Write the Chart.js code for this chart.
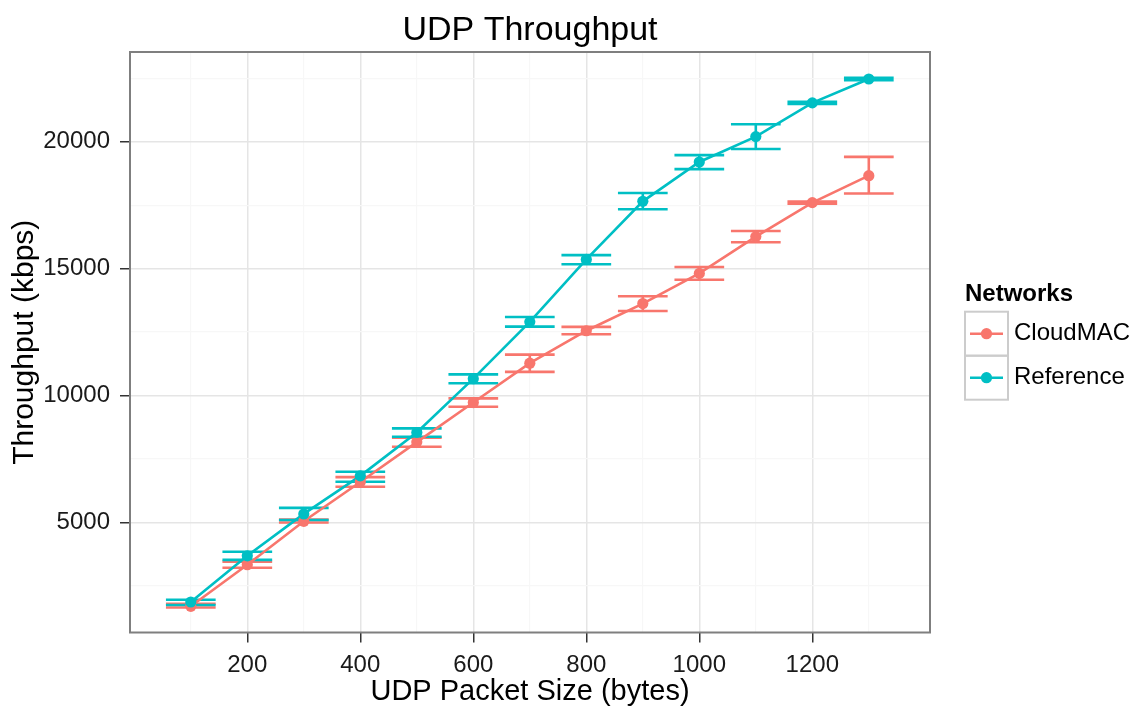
<!DOCTYPE html>
<html>
<head>
<meta charset="utf-8">
<script src="https://cdn.jsdelivr.net/npm/chart.js@4.4.1/dist/chart.umd.min.js"></script>
<style>
html,body{margin:0;padding:0;background:#ffffff;}
#wrap{width:1132px;height:707px;position:relative;}
</style>
</head>
<body>
<div id="wrap"><canvas id="c" width="1132" height="707"></canvas></div>
<script>
// ---- data ----
const packetSizes = [100, 200, 300, 400, 500, 600, 700, 800, 900, 1000, 1100, 1200, 1300];

const cloudmacMean = [1690, 3330, 5040, 6590, 8160, 9720, 11270, 12550, 13620, 14810, 16260, 17600, 18660];
const cloudmacLow  = [1640, 3210, 4990, 6400, 7980, 9555, 10930, 12410, 13330, 14560, 16040, 17555, 17960];
const cloudmacHigh = [1790, 3450, 5110, 6780, 8330, 9885, 11610, 12700, 13910, 15060, 16480, 17645, 19400];

const referenceMean = [1860, 3680, 5330, 6830, 8540, 10660, 12900, 15360, 17650, 19200, 20200, 21530, 22470];
const referenceLow  = [1740, 3520, 5090, 6600, 8370, 10480, 12710, 15170, 17340, 18920, 19710, 21485, 22425];
const referenceHigh = [1950, 3840, 5570, 6990, 8700, 10830, 13090, 15530, 17980, 19470, 20690, 21575, 22515];

const seriesNames = ['CloudMAC', 'Reference'];
const seriesColors = ['#F8766D', '#00BFC4'];

const xMajorTicks = [200, 400, 600, 800, 1000, 1200];
const xMinorBreaks = [100, 300, 500, 700, 900, 1100, 1300];
const yMajorTicks = [5000, 10000, 15000, 20000];
const yMinorBreaks = [2500, 7500, 12500, 17500, 22500];

const chartTitle = 'UDP Throughput';
const xTitle = 'UDP Packet Size (bytes)';
const yTitle = 'Throughput (kbps)';
const legendTitle = 'Networks';

// ---- styling / layout constants ----
const ERR_HALF_WIDTH = 44;
const X_MIN = -7.6, X_MAX = 1408.3;
const Y_MIN = 657, Y_MAX = 23535;
const LEGEND_DX = 35, LEGEND_DY = -12.7;
const LINE_W = 2.6, POINT_R = 5.6;
const FONT = "'Liberation Sans', Arial, Helvetica, sans-serif";

Chart.defaults.font.family = FONT;

function errorBarPoints(xs, lo, hi, half) {
  const pts = [];
  xs.forEach((x, i) => {
    pts.push({x: x - half, y: hi[i]}, {x: x + half, y: hi[i]}, {x: x, y: null},
             {x: x, y: hi[i]}, {x: x, y: lo[i]}, {x: x, y: null},
             {x: x - half, y: lo[i]}, {x: x + half, y: lo[i]}, {x: x, y: null});
  });
  return pts;
}
function seriesPoints(xs, ys) { return xs.map((x, i) => ({x: x, y: ys[i]})); }

const means = [cloudmacMean, referenceMean];
const lows = [cloudmacLow, referenceLow];
const highs = [cloudmacHigh, referenceHigh];

const datasets = [];
seriesNames.forEach((name, s) => {
  datasets.push({
    label: name + ' error', data: errorBarPoints(packetSizes, lows[s], highs[s], ERR_HALF_WIDTH),
    borderColor: seriesColors[s], borderWidth: LINE_W, pointRadius: 0, spanGaps: false,
    tension: 0, order: 6 - s, borderCapStyle: 'butt'
  });
});
seriesNames.forEach((name, s) => {
  datasets.push({
    label: name, data: seriesPoints(packetSizes, means[s]),
    borderColor: seriesColors[s], borderWidth: LINE_W, pointRadius: 0, tension: 0, order: 4 - s
  });
});
seriesNames.forEach((name, s) => {
  datasets.push({
    label: name + ' points', data: seriesPoints(packetSizes, means[s]),
    showLine: false, pointRadius: POINT_R, pointBorderWidth: 0, pointBackgroundColor: seriesColors[s],
    borderColor: seriesColors[s], order: 2 - s
  });
});

const isIn = (arr, v) => arr.indexOf(v) !== -1;

const customPlugin = {
  id: 'ggStyle',
  afterLayout(chart) {
    const lg = chart.legend;
    if (!lg) return;
    lg.left += LEGEND_DX;
    lg.right = chart.width;
    lg.width = lg.right - lg.left;
    lg.top += LEGEND_DY; lg.bottom += LEGEND_DY;
  },
  afterDraw(chart) {
    const ctx = chart.ctx;
    const a = chart.chartArea;
    ctx.save();
    ctx.strokeStyle = '#7f7f7f';
    ctx.lineWidth = 2;
    ctx.strokeRect(a.left, a.top, a.right - a.left, a.bottom - a.top);
    const lg = chart.legend;
    if (lg && lg.legendHitBoxes) {
      lg.legendHitBoxes.forEach((hb, i) => {
        const x0 = hb.left, y0 = hb.top, w = 43, h = 44;
        ctx.strokeStyle = '#cccccc';
        ctx.lineWidth = 2;
        ctx.strokeRect(x0, y0, w, h);
        ctx.strokeStyle = seriesColors[i];
        ctx.lineWidth = LINE_W;
        ctx.beginPath();
        ctx.moveTo(x0 + 5, y0 + h / 2);
        ctx.lineTo(x0 + w - 5, y0 + h / 2);
        ctx.stroke();
        ctx.fillStyle = seriesColors[i];
        ctx.beginPath();
        ctx.arc(x0 + w / 2, y0 + h / 2, POINT_R, 0, Math.PI * 2);
        ctx.fill();
      });
    }
    ctx.restore();
  }
};

new Chart(document.getElementById('c'), {
  type: 'line',
  data: { datasets: datasets },
  plugins: [customPlugin],
  options: {
    responsive: false,
    devicePixelRatio: 1,
    animation: false,
    events: [],
    layout: { padding: { left: 0, top: 0, bottom: 0, right: 42 } },
    plugins: {
      tooltip: { enabled: false },
      title: {
        display: true, text: chartTitle, fullSize: false, color: '#000000',
        font: { size: 34, weight: 'normal', lineHeight: 1 },
        padding: { top: 14, bottom: 4 }
      },
      legend: {
        display: true, position: 'right', align: 'center', maxWidth: 160,
        title: {
          display: true, text: legendTitle, position: 'start', color: '#000000',
          font: { size: 24, weight: 'bold', lineHeight: 1.2 }, padding: { top: 0, bottom: 1 }
        },
        labels: {
          boxWidth: 37, boxHeight: 44, padding: 0, color: '#000000',
          font: { size: 24 },
          generateLabels: () => seriesNames.map((n, i) => ({
            text: n, fillStyle: 'rgba(0,0,0,0)', strokeStyle: 'rgba(0,0,0,0)',
            lineWidth: 0, hidden: false, datasetIndex: 2 + i
          }))
        }
      }
    },
    scales: {
      x: {
        type: 'linear', min: X_MIN, max: X_MAX,
        afterBuildTicks: (s) => {
          s.ticks = xMinorBreaks.concat(xMajorTicks).sort((p, q) => p - q).map(v => ({value: v}));
        },
        afterFit: (s) => { s.height = 74.5; },
        border: { display: false },
        grid: {
          color: (c) => (c.tick && isIn(xMajorTicks, c.tick.value)) ? '#e5e5e5' : '#f7f7f7',
          lineWidth: (c) => (c.tick && isIn(xMajorTicks, c.tick.value)) ? 1.5 : 1.2,
          tickColor: (c) => (c.tick && isIn(xMajorTicks, c.tick.value)) ? '#333333' : 'rgba(0,0,0,0)',
          tickLength: 10, tickWidth: 1.5, drawTicks: true
        },
        ticks: {
          autoSkip: false, maxRotation: 0, minRotation: 0, padding: 8, color: '#1a1a1a',
          font: { size: 24 },
          callback: (v) => isIn(xMajorTicks, v) ? String(v) : ''
        },
        title: {
          display: true, text: xTitle, color: '#000000',
          font: { size: 29, lineHeight: 1 }, padding: { top: 0, bottom: 1 }
        }
      },
      y: {
        type: 'linear', min: Y_MIN, max: Y_MAX,
        afterBuildTicks: (s) => {
          s.ticks = yMinorBreaks.concat(yMajorTicks).sort((p, q) => p - q).map(v => ({value: v}));
        },
        afterFit: (s) => { s.width = 130; },
        border: { display: false },
        grid: {
          color: (c) => (c.tick && isIn(yMajorTicks, c.tick.value)) ? '#e5e5e5' : '#f7f7f7',
          lineWidth: (c) => (c.tick && isIn(yMajorTicks, c.tick.value)) ? 1.5 : 1.2,
          tickColor: (c) => (c.tick && isIn(yMajorTicks, c.tick.value)) ? '#333333' : 'rgba(0,0,0,0)',
          tickLength: 10, tickWidth: 1.5, drawTicks: true
        },
        ticks: {
          autoSkip: false, padding: 10, color: '#1a1a1a',
          font: { size: 24 },
          callback: (v) => isIn(yMajorTicks, v) ? String(v) : ''
        },
        title: {
          display: true, text: yTitle, color: '#000000',
          font: { size: 30, lineHeight: 1 }, padding: { top: 10, bottom: 0 }
        }
      }
    }
  }
});
</script>
</body>
</html>
